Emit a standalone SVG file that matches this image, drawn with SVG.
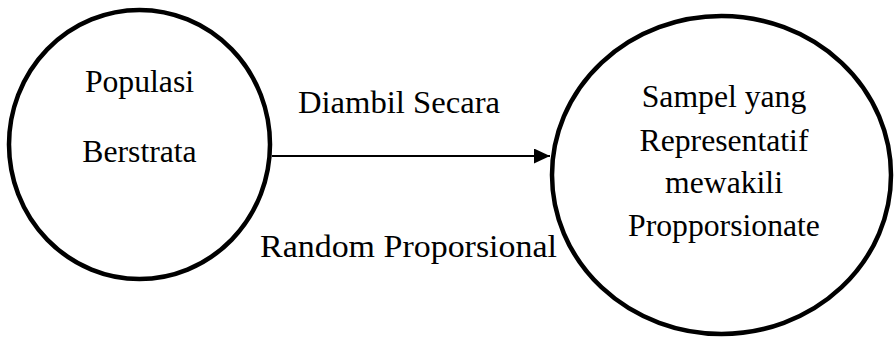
<svg xmlns="http://www.w3.org/2000/svg" width="894" height="339" viewBox="0 0 894 339">
<defs>
<style>
.node{fill:#fff;stroke:#000;stroke-width:4.5}
.t{font-family:"Liberation Serif","Times New Roman",serif;font-size:31.7px;fill:#000;text-anchor:middle}
.lbl{font-family:"Liberation Serif","Times New Roman",serif;font-size:31px;fill:#000}
.edge{stroke:#000;stroke-width:2;fill:none}
</style>
<marker id="ah" markerUnits="userSpaceOnUse" markerWidth="16" markerHeight="15" refX="16" refY="7.5" orient="auto">
<path d="M0,0 L16,7.5 L0,15 Z" fill="#000"/>
</marker>
</defs>
<rect width="894" height="339" fill="#fff"/>
<g id="populasi">
<ellipse class="node" cx="139.5" cy="144.5" rx="130.5" ry="134.5"/>
<text class="t" x="139.5" y="92">Populasi</text>
<text class="t" x="139.5" y="162">Berstrata</text>
</g>
<g id="sampel">
<ellipse class="node" cx="721.5" cy="175" rx="169.5" ry="159"/>
<text class="t" x="724" y="107">Sampel yang</text>
<text class="t" x="724" y="150.5">Representatif</text>
<text class="t" x="724" y="193">mewakili</text>
<text class="t" x="724" y="236">Propporsionate</text>
</g>
<g id="connectors">
<line class="edge" x1="272" y1="156" x2="550" y2="156" marker-end="url(#ah)"/>
<text class="lbl" x="298" y="113" textLength="202" lengthAdjust="spacingAndGlyphs">Diambil Secara</text>
<text class="lbl" x="260" y="257" textLength="297" lengthAdjust="spacingAndGlyphs">Random Proporsional</text>
</g>
</svg>
